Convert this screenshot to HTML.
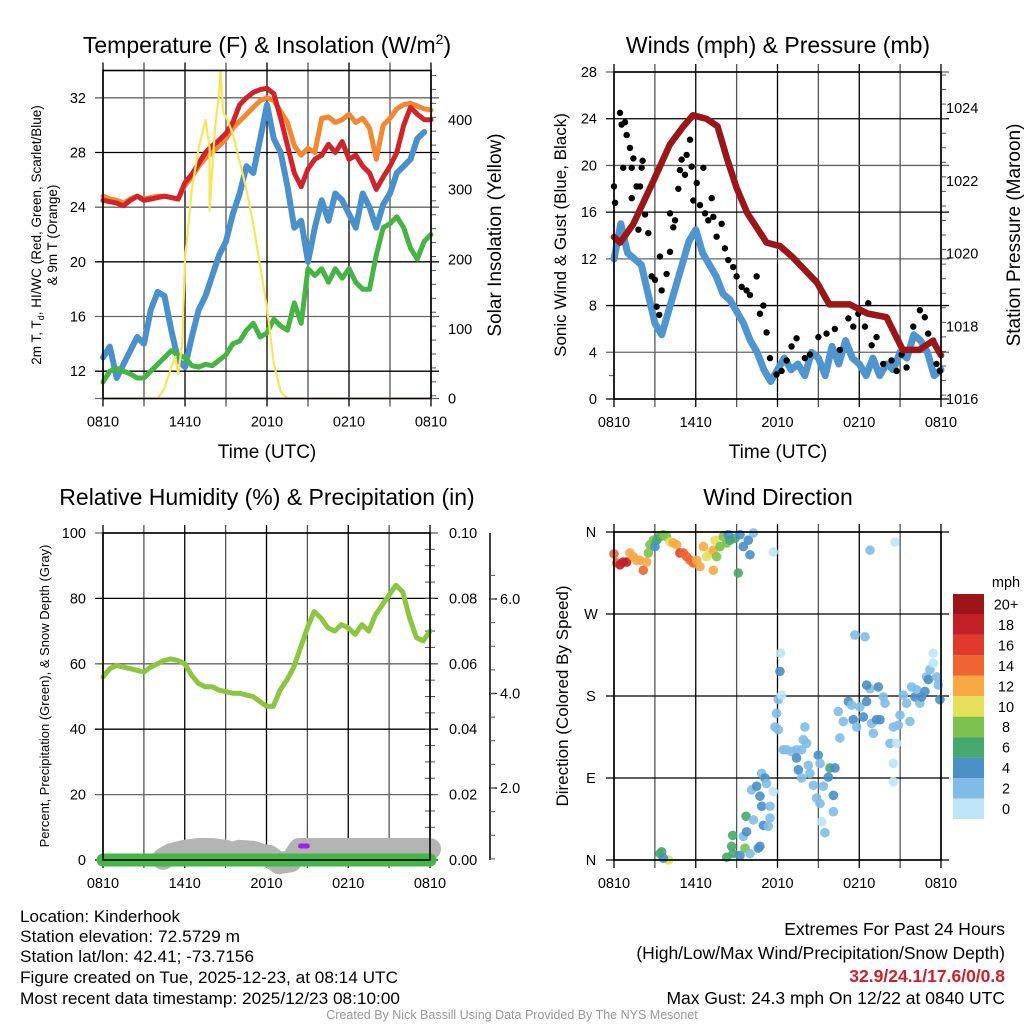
<!DOCTYPE html>
<html><head><meta charset="utf-8"><style>
html,body{margin:0;padding:0;background:#fff;}
svg{display:block;font-family:"Liberation Sans",Arial,sans-serif;}
</style></head><body>
<svg id="root" width="1024" height="1024" viewBox="0 0 1024 1024" xmlns="http://www.w3.org/2000/svg">
<rect width="1024" height="1024" fill="#fff"/>
<g font-size="23" text-anchor="middle" fill="#000">
<text x="267" y="53">Temperature (F) &amp; Insolation (W/m<tspan font-size="14" dy="-9">2</tspan><tspan dy="9">)</tspan></text>
<text x="778" y="53">Winds (mph) &amp; Pressure (mb)</text>
<text x="267" y="505">Relative Humidity (%) &amp; Precipitation (in)</text>
<text x="778" y="505">Wind Direction</text>
</g>
<g font-size="19" text-anchor="middle">
<text x="267" y="458">Time (UTC)</text>
<text x="778" y="458">Time (UTC)</text>
<text transform="translate(501,235) rotate(-90)">Solar Insolation (Yellow)</text>
<text font-size="17" transform="translate(566,235) rotate(-90)">Sonic Wind &amp; Gust (Blue, Black)</text>
<text transform="translate(1020,235) rotate(-90)">Station Pressure (Maroon)</text>
<text font-size="17" transform="translate(568,696) rotate(-90)">Direction (Colored By Speed)</text>
</g>
<g font-size="13.5" text-anchor="middle">
<text transform="translate(41,235) rotate(-90)">2m T, T<tspan font-size="9" dy="3">d</tspan><tspan dy="-3">, HI/WC (Red, Green, Scarlet/Blue)</tspan></text>
<text transform="translate(57,235) rotate(-90)">&amp; 9m T (Orange)</text>
<text font-size="13" transform="translate(49,696) rotate(-90)">Percent, Precipitation (Green), &amp; Snow Depth (Gray)</text>
</g>
<g id="p1"></g>
<g id="p2"></g>
<g id="p3"></g>
<g id="p4"></g>
<g id="cbar"></g>
<g font-size="17" fill="#000">
<text x="20" y="922" textLength="160" lengthAdjust="spacingAndGlyphs">Location: Kinderhook</text>
<text x="20" y="942" textLength="220" lengthAdjust="spacingAndGlyphs">Station elevation: 72.5729 m</text>
<text x="20" y="962" textLength="234" lengthAdjust="spacingAndGlyphs">Station lat/lon: 42.41; -73.7156</text>
<text x="20" y="983" textLength="378" lengthAdjust="spacingAndGlyphs">Figure created on Tue, 2025-12-23, at 08:14 UTC</text>
<text x="20" y="1004" textLength="380" lengthAdjust="spacingAndGlyphs">Most recent data timestamp: 2025/12/23 08:10:00</text>
</g>
<g font-size="17.5" text-anchor="end">
<text x="1005" y="935">Extremes For Past 24 Hours</text>
<text x="1005" y="959">(High/Low/Max Wind/Precipitation/Snow Depth)</text>
<text x="1005" y="982" fill="#d0202a" font-weight="bold">32.9/24.1/17.6/0/0.8</text>
<text x="1005" y="1004">Max Gust: 24.3 mph On 12/22 at 0840 UTC</text>
</g>
<text x="512" y="1019" font-size="12.5" fill="#999" text-anchor="middle">Created By Nick Bassill Using Data Provided By The NYS Mesonet</text>
</svg>
<script>
const NS='http://www.w3.org/2000/svg';
// ---------- data ----------
const timeLabels=['0810','1410','2010','0210','0810'];
const halfHours=[0,0.5,1,1.5,2,2.5,3,3.5,4,4.5,5,5.5,6,6.5,7,7.5,8,8.5,9,9.5,10,10.5,11,11.5,12,12.5,13,13.5,14,14.5,15,15.5,16,16.5,17,17.5,18,18.5,19,19.5,20,20.5,21,21.5,22,22.5,23,23.5,24];
const tempTicks=[12,16,20,24,28,32];
const solarTicks=[0,100,200,300,400];
const temp2m=[24.5,24.4,24.3,24.1,24.5,24.8,24.5,24.6,24.7,24.8,24.7,24.6,25.8,26.4,27.2,28.0,28.5,28.9,29.4,30.2,31.5,32.0,32.4,32.6,32.7,32.3,30.5,28.5,26.5,25.5,26.8,27.5,27.8,28.6,28.0,28.8,27.5,27.8,27.0,26.5,25.3,26.2,27.0,28.0,30.0,31.3,30.8,30.4,30.4];
const temp9m=[24.8,24.6,24.5,24.3,24.6,24.8,24.6,24.7,24.8,24.8,24.7,24.6,25.6,26.2,27.0,27.6,28.0,28.5,29.0,29.8,30.3,30.8,31.3,31.8,32.0,31.8,31.0,30.2,28.5,27.8,28.3,28.0,30.5,30.6,30.2,30.4,30.8,30.2,30.5,29.8,27.5,30.0,30.5,31.2,31.5,31.6,31.4,31.2,31.1];
const windChill=[13.0,13.8,11.5,12.5,13.5,14.5,14.0,16.5,17.8,17.5,15.0,12.8,12.3,14.5,16.5,17.5,19.0,20.5,21.5,23.5,25.0,27.0,26.5,29.0,31.5,29.0,28.0,25.5,22.5,23.0,20.0,22.5,24.5,23.0,25.0,24.5,23.5,22.5,25.0,24.0,22.5,24.2,25.0,26.5,27.0,27.5,29.0,29.5,null];
const dewPoint=[11.2,12.0,12.2,12.0,11.8,11.5,11.5,12.0,12.5,13.0,13.5,13.2,13.0,12.4,12.3,12.5,12.4,12.8,13.2,14.0,14.2,15.0,15.5,14.5,14.8,15.8,15.3,15.0,17.0,15.5,19.5,19.0,19.5,18.5,19.5,18.8,19.5,18.5,18.0,18.0,20.5,22.5,22.8,23.3,22.5,21.0,20.2,21.5,22.0];
const solarTimes=[0,4,4.5,5,5.3,5.5,5.8,6,6.5,7,7.5,7.8,7.8,8.2,8.5,8.6,8.8,9,9.5,10,10.5,11,11.5,12,12.5,13,13.5,24];
const solarValues=[0,0,15,45,60,35,80,200,300,360,400,360,270,390,440,470,410,405,380,340,300,250,190,130,50,10,0,0];
const windTicks=[0,4,8,12,16,20,24,28];
const pressTicks=[1016,1018,1020,1022,1024];
const sonicWind=[12,15,12.5,12,11.5,9,6.5,5.5,7.5,9.5,11.5,13.5,14.5,12.5,11.5,10.5,9,8.5,7.5,6.5,5,4,2.5,1.5,2.5,3.5,2.5,3,2,4,3.5,2,4.5,3,5,3.5,3,2,3.5,2,3,2.5,4,3.5,5.5,5,4,2,2.5];
const pressTimes=[0,0.45,1.4,2.9,4.1,5.1,5.8,6.8,7.6,8.3,9.0,9.8,11.2,12.2,13.1,14.9,15.8,17.3,18.6,20,21.2,22.4,23.4,24];
const pressValues=[1020.45,1020.3,1020.8,1022,1023,1023.5,1023.8,1023.7,1023.5,1022.6,1021.8,1021.1,1020.3,1020.2,1019.9,1019.2,1018.6,1018.6,1018.35,1018.25,1017.35,1017.35,1017.6,1017.2];
const gustTimes=[0,0.08,0.44,0.56,0.81,0.93,1.17,0.68,1.3,1.42,1.66,1.91,2.03,2.1,1.3,2.28,1.79,2.52,2.76,3.01,3.13,3.32,3.5,3.86,3.37,4.11,4.35,4.11,4.48,4.72,4.84,4.96,5.21,5.33,5.58,5.7,5.82,6.07,6.31,6.56,6.68,6.92,7.17,7.29,7.53,7.9,8.14,8.39,8.75,9.0,9.37,9.73,9.98,10.47,10.71,10.96,11.2,11.45,11.93,12.3,12.67,13.03,13.4,14.01,14.38,15.0,15.6,16.21,16.58,17.2,17.56,17.93,18.42,18.66,18.91,19.27,19.76,20.37,20.74,21.11,21.47,21.96,22.45,22.81,23.06,23.43,23.67,23.92];
const gustValues=[18.2,16.8,24.5,23.5,23.7,22.6,21.5,19.8,19.8,20.6,18.2,18.2,19.8,20.4,17.2,15.8,14.5,14.2,10.5,10.2,7.9,7.2,9.3,10.7,12.2,12.6,14.7,15.9,15.3,18.0,19.6,20.5,19.2,20.9,22.2,19.9,17.0,18.5,16.6,19.8,15.9,15.3,17.2,15.6,13.9,15.0,12.9,11.9,11.3,10.5,9.6,9.3,8.9,10.5,7.3,8.0,5.7,3.5,2.1,2.4,3.3,4.5,5.2,3.5,3.8,5.3,5.6,6.0,4.2,6.9,6.2,7.3,6.2,8.2,4.6,5.3,3.0,3.3,2.4,3.8,2.7,6.2,7.6,7.0,5.6,5.0,3.0,2.4];
const rhTicks=[0,20,40,60,80,100];
const precipTicks=['0.00','0.02','0.04','0.06','0.08','0.10'];
const snowTicks=['2.0','4.0','6.0'];
const relHumidity=[56,58.5,59.5,59,58.5,58,57.5,59,60,61,61.5,61,60,56.5,54,53,53,52,51.5,51,51,50.5,50,48.5,47,47,52,55,59,65,71,76,74,71,70,72,71,69,72,70,75,78,81,84,82,74,68,67,70];
const precipValues=[0,0,0,0,0,0,0,0,0,0,0,0,0,0,0,0,0,0,0,0,0,0,0,0,0,0,0,0,0,0,0,0,0,0,0,0,0,0,0,0,0,0,0,0,0,0,0,0,0];
const snowTimes=[4.4,5,6,7,8,9,9.5,10,11,11.5,12.2,12.9,13.8,14.4,15,16,18,20,22,24];
const snowValues=[0.5,0.6,0.67,0.71,0.71,0.67,0.62,0.67,0.65,0.6,0.56,0.41,0.45,0.71,0.71,0.71,0.71,0.71,0.71,0.71];
const dirLabels=['N','E','S','W','N'];
const dirTimes=[0,0.2,0.44,0.69,0.93,1.17,1.42,1.66,1.91,2.15,2.4,2.52,2.64,2.89,3.13,3.38,3.62,3.86,4.11,4.35,4.6,4.84,5.09,5.33,5.58,5.82,6.07,6.31,6.56,6.8,7.04,7.29,7.41,7.29,7.53,7.78,8.02,8.27,8.51,8.88,9.12,9.25,9.49,9.86,9.98,10.23,11.69,3.01,8.39,3.38,3.5,4.0,3.62,8.27,8.63,8.75,8.71,9.25,9.61,9.49,9.73,9.98,9.69,10.23,10.59,10.71,10.96,11.32,11.45,10.84,11.45,10.71,10.1,10.47,10.84,11.08,11.2,11.69,12.06,11.81,11.93,12.06,12.3,12.18,12.23,12.42,12.67,13.04,13.4,13.77,13.89,14.14,14.01,13.4,13.53,13.77,14.26,14.38,14.63,14.87,15.12,14.99,15.12,15.36,15.73,15.85,16.22,16.1,16.1,15.24,15.48,16.46,16.58,16.83,17.2,17.44,17.56,17.81,18.05,18.3,18.54,18.79,18.54,19.03,18.91,19.27,19.52,19.4,19.76,19.89,20.25,20.5,20.74,20.87,20.99,21.23,21.48,21.72,21.84,22.09,22.21,22.45,22.58,22.82,22.94,23.07,23.19,23.43,23.43,23.68,23.92,23.8,20.5,20.5,17.68,18.42,18.79,20.62];
const dirValues=[336,326,324,327,327,337,333,329,329,318,327,337,346,351,351,355,357,355,349,348,346,337,337,333,329,326,329,322,344,333,337,340,351,318,333,344,355,348,351,353,315,357,344,351,335,359,338,344,357,7,9,0,2,3,15,7,27,5,13,26,31,7,48,44,13,15,38,37,46,59,59,70,77,81,95,90,84,75,143,146,161,176,181,207,227,121,121,119,121,121,132,128,146,112,99,90,104,95,82,68,62,115,106,81,91,101,101,71,53,42,30,163,134,152,174,170,154,146,168,157,174,188,192,139,150,154,154,190,179,172,128,146,128,148,159,181,172,152,190,179,187,172,179,185,201,198,209,216,227,201,176,192,106,86,247,245,340,349];
const dirSpeeds=[14,14,18,18,18,12,12,12,12,14,12,8,8,8,6,6,8,8,10,12,12,16,14,14,14,14,12,12,12,10,10,12,10,12,8,8,8,8,6,6,6,4,4,4,4,2,0,4,4,6,6,10,4,6,6,6,6,4,8,2,4,2,6,2,4,4,4,2,2,4,2,4,2,4,2,4,2,0,2,2,2,2,0,4,0,2,2,2,2,2,2,2,2,4,4,2,2,2,2,2,2,4,2,2,4,6,4,4,2,0,2,2,2,2,4,2,4,2,2,4,4,2,4,2,2,4,4,4,2,2,2,2,0,2,2,2,2,2,2,4,2,2,4,4,2,4,2,0,0,2,4,2,0,0,2,2,2,0];
const speedBins=[20,18,16,14,12,10,8,6,4,2,0];
const speedBinLabels=['20+','18','16','14','12','10','8','6','4','2','0'];
const speedColors=['#9b1519','#c21f26','#df3a2b','#ef6530','#f8a845','#e6e05b','#7dc24d','#47a86d','#4a8fc6','#7fbce7','#bfe6f8'];

// ---------- helpers ----------
function mk(tag,attrs,parent){const e=document.createElementNS(NS,tag);for(const k in attrs)e.setAttribute(k,attrs[k]);parent.appendChild(e);return e;}
function lin(d0,d1,r0,r1){return v=>r0+(v-d0)*(r1-r0)/(d1-d0);}
function pathFrom(xs,ys,sx,sy){let d='',pen=false;for(let i=0;i<xs.length;i++){if(ys[i]===null||ys[i]===undefined){pen=false;continue;}d+=(pen?'L':'M')+sx(xs[i]).toFixed(1)+','+sy(ys[i]).toFixed(1);pen=true;}return d;}
function frame(g,x0,x1,y0,y1,sx){
  for(let h=0;h<=24;h+=3){
    const l=mk('line',{x1:sx(h),x2:sx(h),y1:y0-8,y2:y1+8,stroke:(h%6===0)?'#000':'#555','stroke-width':1.3},g);
    
    
  }
  timeLabels.forEach((t,i)=>{
    const tx=mk('text',{x:sx(i*6),y:y1+28,'font-size':14.5,'text-anchor':'middle'},g);
    tx.textContent=t;
    
    
  });
}
function hgrid(g,x0,x1,y,dark){
  const l=mk('line',{x1:x0-8,x2:x1+8,y1:y,y2:y,stroke:dark?'#000':'#666','stroke-width':1.3},g);
  
  
}
function label(g,x,y,txt,anchor,name,size){
  const t=mk('text',{x:x,y:y,'font-size':size||14.5,'text-anchor':anchor},g);
  t.textContent=txt;
  
  
  return t;
}
function border(g,x0,x1,y0,y1){
  const r=mk('rect',{x:x0,y:y0,width:x1-x0,height:y1-y0,fill:'none',stroke:'#000','stroke-width':1.6},g);
  
  
}
function minorTicks(g,x,yA,yB,step,dir){
  for(let y=yA;y<=yB+0.1;y+=step){
    const l=mk('line',{x1:x,x2:x+dir*5,y1:y,y2:y,stroke:'#555','stroke-width':1},g);
    
    
  }
}
function series(g,xs,ys,sx,sy,color,w,name){
  const p=mk('path',{d:pathFrom(xs,ys,sx,sy),fill:'none',stroke:color,'stroke-width':w,'stroke-linejoin':'round','stroke-linecap':'round'},g);
  
  
  return p;
}

// ---------- panel 1 ----------
(function(){
  const g=document.getElementById('p1');
  const x0=103,x1=431,y0=70.5,y1=398.5;
  const sx=lin(0,24,x0,x1), sy=lin(10,34,y1,y0), ss=lin(0,400,y1,120);
  frame(g,x0,x1,y0,y1,sx);
  tempTicks.forEach(v=>{hgrid(g,x0,x1,sy(v),v%8!==0);label(g,86,sy(v)+5,String(v),'end','temperature-tick-label');});
  hgrid(g,x0,x1,y1,false);
  solarTicks.forEach(v=>{label(g,448,ss(v)+5,String(v),'start','solar-tick-label');});
  minorTicks(g,x1,y0+5,y1,ss(0)-ss(20),1);
  const cg=mk('g',{},g);
  const clip=mk('clipPath',{id:'c1'},g);mk('rect',{x:x0-4,y:y0,width:x1-x0+8,height:y1-y0},clip);
  cg.setAttribute('clip-path','url(#c1)');
  series(cg,halfHours,temp9m,sx,sy,'#f58632',5,'temp-9m-line-orange');
  series(cg,halfHours,temp2m,sx,sy,'#d3232a',5,'temp-2m-line-red');
  series(cg,halfHours,windChill,sx,sy,'#4a91cb',6,'wind-chill-line-blue');
  series(cg,halfHours,dewPoint,sx,sy,'#46b443',5,'dew-point-line-green');
  series(cg,solarTimes,solarValues,sx,ss,'#fbe35a',2.2,'solar-insolation-line-yellow');
  border(g,x0,x1,y0,y1);
})();

// ---------- panel 2 ----------
(function(){
  const g=document.getElementById('p2');
  const x0=614,x1=941,y0=72,y1=399;
  const sx=lin(0,24,x0,x1), sy=lin(0,28,y1,y0), sp=lin(1016,1024,y1,108);
  frame(g,x0,x1,y0,y1,sx);
  windTicks.forEach(v=>{hgrid(g,x0,x1,sy(v),v%8===0);label(g,597,sy(v)+5,String(v),'end','wind-tick-label');});
  pressTicks.forEach(v=>{label(g,946,sp(v)+5,String(v),'start','pressure-tick-label');});
  minorTicks(g,x1,y0+3,y1,sp(0)-sp(0.4)||18,1);
  minorTicks(g,x0,sy(2),y1,sy(0)-sy(4),-1);
  const clip=mk('clipPath',{id:'c2'},g);mk('rect',{x:x0-4,y:y0,width:x1-x0+8,height:y1-y0},clip);
  const cg=mk('g',{'clip-path':'url(#c2)'},g);
  series(cg,halfHours,sonicWind,sx,sy,'#4f95d0',7,'sonic-wind-line-blue');
  gustTimes.forEach((t,i)=>{
    const c=mk('circle',{cx:sx(t),cy:sy(gustValues[i]),r:3.2,fill:'#000'},cg);
    
    
  });
  series(cg,pressTimes,pressValues,sx,sp,'#9b1619',6.5,'pressure-line-maroon');
  border(g,x0,x1,y0,y1);
})();

// ---------- panel 3 ----------
(function(){
  const g=document.getElementById('p3');
  const x0=103,x1=430,y0=533,y1=860;
  const sx=lin(0,24,x0,x1), sy=lin(0,100,y1,y0), spr=lin(0,0.1,y1,y0), ssn=lin(2,6,788,599);
  frame(g,x0,x1,y0,y1,sx);
  rhTicks.forEach(v=>{hgrid(g,x0,x1,sy(v),v%40===0);label(g,86,sy(v)+5,String(v),'end','humidity-tick-label');});
  precipTicks.forEach(v=>{label(g,449,spr(parseFloat(v))+5,v,'start','precip-tick-label');});
  minorTicks(g,x1,y0,y1,(y1-y0)/20,1);
  minorTicks(g,x1,y0,y1,(y1-y0)/20,-1);
  const ax=mk('line',{x1:490,x2:490,y1:533,y2:860,stroke:'#000','stroke-width':1.5},g);
  
  
  snowTicks.forEach(v=>{
    const y=ssn(parseFloat(v));
    const t=mk('line',{x1:489,x2:497,y1:y,y2:y,stroke:'#000','stroke-width':1.3},g);
    
    
    label(g,500,y+5,v,'start','snow-depth-tick-label');
  });
  minorTicks(g,490,ssn(6.5),860,ssn(2)-ssn(2.5),1);
  series(g,snowTimes,snowValues,sx,ssn,'#b4b4b4',22,'snow-depth-band-gray');
  series(g,halfHours,relHumidity,sx,sy,'#8cc63f',5,'relative-humidity-line');
  series(g,halfHours,precipValues,sx,spr,'#44b649',13,'precipitation-line-green');
  const pur=mk('line',{x1:sx(14.5),x2:sx(15.0),y1:846,y2:846,stroke:'#a020f0','stroke-width':5,'stroke-linecap':'round'},g);
  
  
  border(g,x0,x1,y0,y1);
})();

// ---------- panel 4 ----------
(function(){
  const g=document.getElementById('p4');
  const x0=614,x1=941,y0=532,y1=860;
  const sx=lin(0,24,x0,x1), sy=lin(0,360,y1,y0);
  frame(g,x0,x1,y0,y1,sx);
  dirLabels.forEach((d,i)=>{hgrid(g,x0,x1,sy(i*90),true);label(g,591,sy(i*90)+5,d,'middle','direction-tick-label');});
  const clip=mk('clipPath',{id:'c4'},g);mk('rect',{x:x0-6,y:y0-6,width:x1-x0+12,height:y1-y0+12},clip);
  const cg=mk('g',{'clip-path':'url(#c4)'},g);
  dirTimes.forEach((t,i)=>{
    const idx=speedBins.findIndex(b=>dirSpeeds[i]>=b);
    const c=mk('circle',{cx:sx(t),cy:sy(dirValues[i]),r:4.8,fill:speedColors[idx],'fill-opacity':0.9},cg);
    
    
  });
  border(g,x0,x1,y0,y1);
})();

// ---------- colorbar ----------
(function(){
  const g=document.getElementById('cbar');
  label(g,1006,587,'mph','middle','colorbar-unit-label',14.5);
  speedBinLabels.forEach((s,i)=>{
    const r=mk('rect',{x:953,y:594+i*20.45,width:31,height:20.45,fill:speedColors[i]},g);
    
    
    label(g,1006,594+i*20.45+15.5,s,'middle','colorbar-label',14.5);
  });
})();
</script>
</body></html>
